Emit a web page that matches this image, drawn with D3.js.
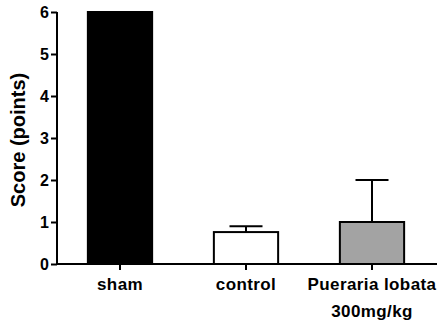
<html>
<head>
<meta charset="utf-8">
<script src="https://d3js.org/d3.v7.min.js"></script>
<style>
  body { margin: 0; background: #fff; }
  text { font-family: "Liberation Sans", Arial, sans-serif; font-weight: bold; }
</style>
</head>
<body>
<div id="output"></div>
<script>
// data
var groups = ["sham", "control", "Pueraria lobata|300mg/kg"];
var means = [6, 0.76, 1.0];
var errors = [0, 0.14, 1.0];
var fills = ["#000000", "#ffffff", "#a3a3a3"];
var yTicks = [0, 1, 2, 3, 4, 5, 6];

var width = 441, height = 322;
var svg = d3.select("#output").append("svg")
  .attr("width", width)
  .attr("height", height);

var x = d3.scaleBand()
  .domain(groups)
  .range([57, 435])
  .paddingInner(0.49)
  .paddingOuter(0.245);

var y = d3.scaleLinear()
  .domain([0, 6])
  .range([264, 12]);

// bars
svg.selectAll("rect.bar")
  .data(groups)
  .enter().append("rect")
  .attr("class", "bar")
  .attr("x", function(d) { return x(d); })
  .attr("width", x.bandwidth())
  .attr("y", function(d, i) { return y(means[i]); })
  .attr("height", function(d, i) { return y(0) - y(means[i]); })
  .attr("fill", function(d, i) { return fills[i]; })
  .attr("stroke", "#000")
  .attr("stroke-width", 2);

// error bars (upper only)
var capHalf = 16.5;
groups.forEach(function(g, i) {
  if (errors[i] <= 0) return;
  var cx = x(g) + x.bandwidth() / 2;
  svg.append("line")
    .attr("x1", cx).attr("x2", cx)
    .attr("y1", y(means[i])).attr("y2", y(means[i] + errors[i]))
    .attr("stroke", "#000").attr("stroke-width", 2);
  svg.append("line")
    .attr("x1", cx - capHalf).attr("x2", cx + capHalf)
    .attr("y1", y(means[i] + errors[i])).attr("y2", y(means[i] + errors[i]))
    .attr("stroke", "#000").attr("stroke-width", 2);
});

// y axis
var yAxis = svg.append("g")
  .attr("transform", "translate(57,0)")
  .call(d3.axisLeft(y).tickValues(yTicks).tickSize(6).tickPadding(2).tickFormat(d3.format("d")));
yAxis.selectAll("path, line").attr("stroke", "#000").attr("stroke-width", 2);
yAxis.select("path").attr("d", "M0," + y(6) + "V" + y(0));
yAxis.selectAll("text").style("font-size", "16px").attr("fill", "#000")
  .style("font-family", '"Liberation Sans", Arial, sans-serif').style("font-weight", "bold");

// x axis
var xAxis = svg.append("g")
  .attr("transform", "translate(0," + y(0) + ")")
  .call(d3.axisBottom(x).tickSize(6).tickPadding(6).tickFormat(""));
xAxis.selectAll("path, line").attr("stroke", "#000").attr("stroke-width", 2);
xAxis.select("path").attr("d", "M56,0H437");
xAxis.selectAll(".tick").each(function(d) {
  var t = d3.select(this).append("text")
    .attr("fill", "#000")
    .attr("text-anchor", "middle")
    .style("font-size", "17px")
    .style("letter-spacing", "0.4px");
  d.split("|").forEach(function(line, k) {
    t.append("tspan").attr("x", 0).attr("y", 26 + k * 27).text(line);
  });
});

// y axis title
svg.append("text")
  .attr("transform", "translate(25,140) rotate(-90)")
  .attr("text-anchor", "middle")
  .style("font-size", "20px")
  .text("Score (points)");
</script>
</body>
</html>
